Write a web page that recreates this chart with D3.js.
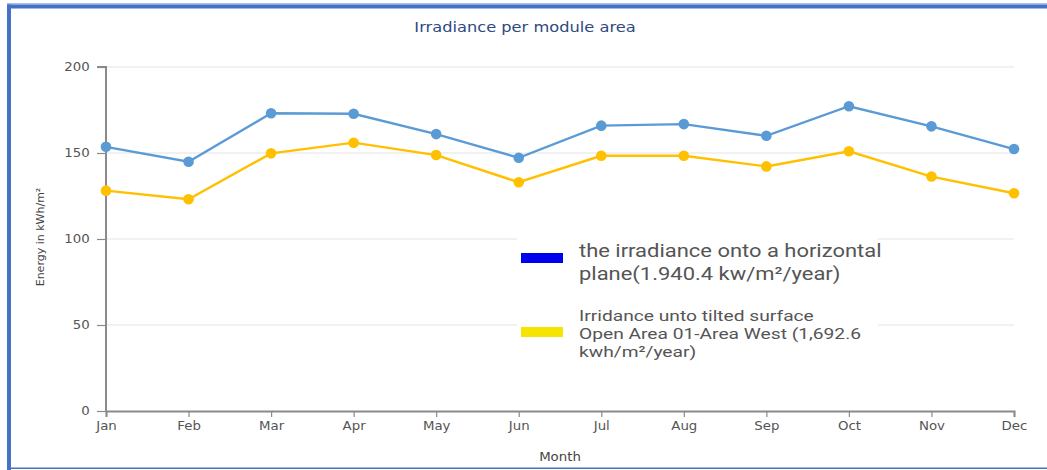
<!DOCTYPE html>
<html>
<head>
<meta charset="utf-8">
<script src="https://cdn.jsdelivr.net/npm/d3@7"></script>
<style>
  html, body { margin: 0; padding: 0; background: #fff; }
  svg { display: block; }
</style>
</head>
<body>
<svg id="chart" width="1047" height="470"></svg>
<script>
// Monthly irradiance, kWh/m²
const months = ["Jan","Feb","Mar","Apr","May","Jun","Jul","Aug","Sep","Oct","Nov","Dec"];
const horizontal = [153.6, 144.9, 173.1, 172.8, 161.0, 147.2, 165.9, 166.8, 160.0, 177.2, 165.5, 152.3];
const tilted = [128.1, 123.1, 149.8, 156.0, 148.8, 133.0, 148.4, 148.4, 142.2, 151.0, 136.3, 126.6];
const yTicks = [0, 50, 100, 150, 200];

const seriesColors = ["#5b9bd5", "#ffc000"];
const swatchColors = ["#0000ee", "#f5e400"];

const svg = d3.select("#chart");
const W = 1047, H = 470;
const m = { left: 106, right: 33, top: 67, bottom: 59 };
const SANS = "DejaVu Sans, Verdana, sans-serif";
const WIDE = 1.16; // horizontal stretch applied to labels

// frame
svg.append("rect").attr("x", 7).attr("y", 3).attr("width", W - 7).attr("height", 1.5).attr("fill", "#a9bfe6");
svg.append("rect").attr("x", 7).attr("y", 4.5).attr("width", W - 7).attr("height", 4).attr("fill", "#4472c4");
svg.append("rect").attr("x", 7).attr("y", 4.5).attr("width", 4).attr("height", H - 4.5).attr("fill", "#4472c4");
svg.append("rect").attr("x", 7).attr("y", 467.5).attr("width", W - 7).attr("height", 1.5).attr("fill", "#4472c4");

const x = d3.scalePoint().domain(months).range([m.left, W - m.right]);
const y = d3.scaleLinear().domain([0, 200]).range([H - m.bottom, m.top]);

// gridlines
svg.append("g")
  .selectAll("line").data(yTicks.filter(t => t > 0)).join("line")
  .attr("x1", m.left).attr("x2", W - m.right)
  .attr("y1", d => y(d)).attr("y2", d => y(d))
  .attr("stroke", "#e3e3e3").attr("stroke-width", 1.2);

// axes
const yAxis = svg.append("g").attr("transform", `translate(${m.left},0)`)
  .call(d3.axisLeft(y).tickValues(yTicks).tickSize(9).tickPadding(5));
const xAxis = svg.append("g").attr("transform", `translate(0,${H - m.bottom})`)
  .call(d3.axisBottom(x).tickSize(6).tickPadding(5));

[yAxis, xAxis].forEach(g => {
  g.select(".domain").attr("stroke", "#8a8a8a").attr("stroke-width", 2);
  g.selectAll(".tick line").attr("stroke", "#8a8a8a").attr("stroke-width", 1.2);
  g.selectAll(".tick text").attr("fill", "#555").attr("font-family", SANS).attr("font-size", 11.5)
    .attr("transform", `scale(${WIDE},1)`);
});
yAxis.select(".domain").attr("d", `M-9,${y(200)}H0V${y(0)}`);

// title
svg.append("text").attr("transform", `translate(525,32) scale(${WIDE},1)`).attr("text-anchor", "middle")
  .attr("font-family", SANS).attr("font-size", 14)
  .attr("fill", "#2e4a80").text("Irradiance per module area");

// axis titles
svg.append("text").attr("transform", `translate(560,461) scale(${WIDE},1)`).attr("text-anchor", "middle")
  .attr("font-family", SANS).attr("font-size", 11.5)
  .attr("fill", "#444").text("Month");
svg.append("text").attr("transform", "translate(44,237) rotate(-90)").attr("text-anchor", "middle")
  .attr("font-family", SANS).attr("font-size", 11)
  .attr("fill", "#444").text("Energy in kWh/m²");

// series
const line = d3.line().x((d, i) => x(months[i])).y(d => y(d));
[horizontal, tilted].forEach((vals, s) => {
  svg.append("path").datum(vals).attr("d", line)
    .attr("fill", "none").attr("stroke", seriesColors[s]).attr("stroke-width", 2.4);
  svg.append("g").selectAll("circle").data(vals).join("circle")
    .attr("cx", (d, i) => x(months[i])).attr("cy", d => y(d)).attr("r", 5.3)
    .attr("fill", seriesColors[s]);
});

// legend
const legend = svg.append("g");
legend.append("rect").attr("x", 517).attr("y", 233).attr("width", 361).attr("height", 132).attr("fill", "#fff");
const entries = [
  { lines: ["the irradiance onto a horizontal", "plane(1.940.4 kw/m²/year)"], size: 18, lh: 23, top: 257, sw: 253, k: 1.22 },
  { lines: ["Irridance unto tilted surface", "Open Area 01-Area West (1,692.6", "kwh/m²/year)"], size: 15, lh: 18, top: 321, sw: 327, k: 1.28 }
];
entries.forEach((e, i) => {
  legend.append("rect").attr("x", 521).attr("y", e.sw).attr("width", 42).attr("height", 10).attr("fill", swatchColors[i]);
  const t = legend.append("text").attr("transform", `translate(579,${e.top}) scale(${e.k},1)`)
    .attr("font-family", "Roboto, sans-serif").attr("font-size", e.size).attr("fill", "#555");
  e.lines.forEach((l, j) => t.append("tspan").attr("x", 0).attr("y", j * e.lh).text(l));
});
</script>
</body>
</html>
